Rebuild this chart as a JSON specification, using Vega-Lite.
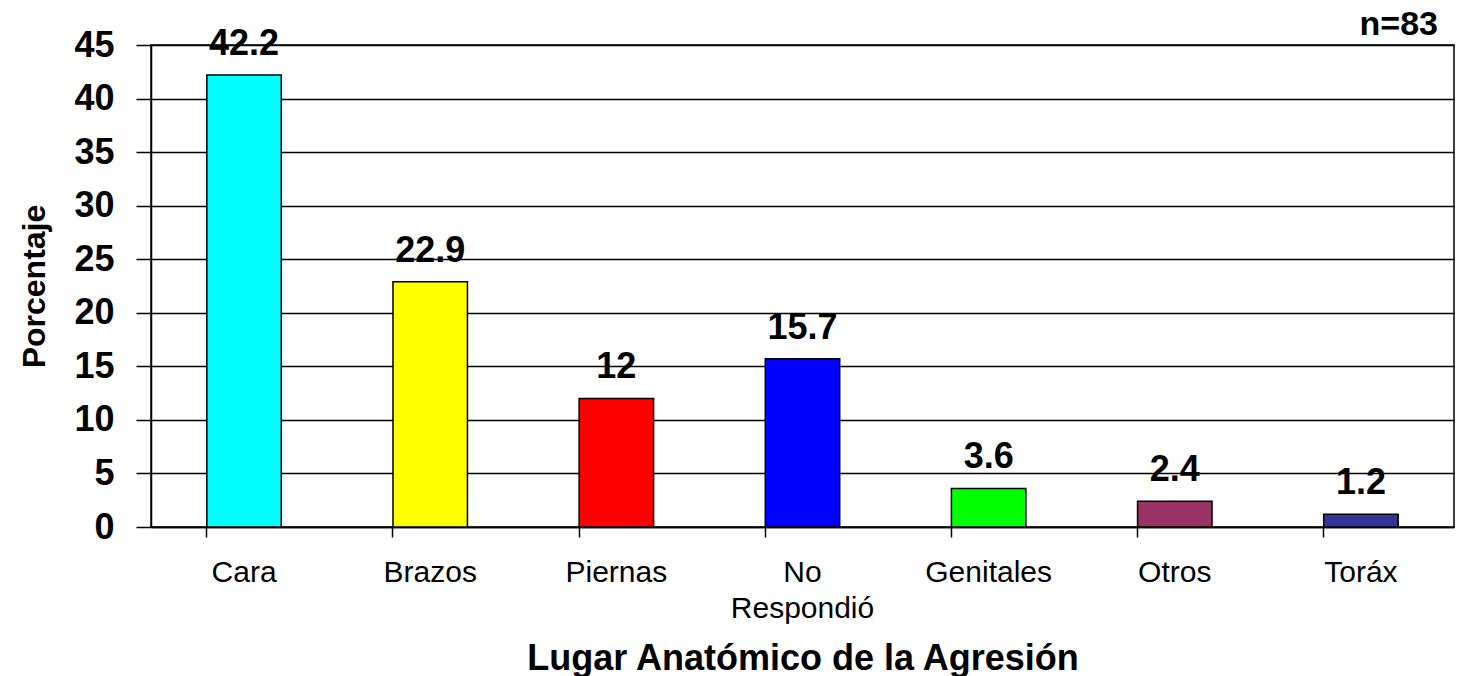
{
  "$schema": "https://vega.github.io/schema/vega-lite/v6.json",
  "autosize": {"type": "none"},
  "width": 1303,
  "height": 482,
  "padding": {"left": 151, "top": 45, "right": 3, "bottom": 149},
  "background": "white",
  "config": {
    "font": "Liberation Sans",
    "view": {"stroke": "black", "strokeWidth": 1.5}
  },
  "title": {
    "text": "n=83",
    "anchor": "end",
    "orient": "top",
    "frame": "group",
    "fontSize": 34,
    "fontWeight": "bold",
    "font": "Liberation Sans",
    "color": "black",
    "baseline": "alphabetic",
    "offset": -43,
    "dx": -16
  },
  "data": {
    "values": [
      {"lugar": "Cara", "pct": 42.2, "etiqueta": "42.2"},
      {"lugar": "Brazos", "pct": 22.9, "etiqueta": "22.9"},
      {"lugar": "Piernas", "pct": 12.0, "etiqueta": "12"},
      {"lugar": "No Respondió", "pct": 15.7, "etiqueta": "15.7"},
      {"lugar": "Genitales", "pct": 3.6, "etiqueta": "3.6"},
      {"lugar": "Otros", "pct": 2.4, "etiqueta": "2.4"},
      {"lugar": "Toráx", "pct": 1.2, "etiqueta": "1.2"}
    ]
  },
  "encoding": {
    "x": {
      "field": "lugar",
      "type": "nominal",
      "sort": null,
      "scale": {"paddingInner": 0.6, "paddingOuter": 0.3},
      "axis": {
        "title": "Lugar Anatómico de la Agresión",
        "titleFontSize": 36,
        "titleFontWeight": "bold",
        "titleColor": "black",
        "titlePadding": 18,
        "labelAngle": 0,
        "labelFontSize": 30,
        "labelColor": "black",
        "labelPadding": 20,
        "labelLineHeight": 36,
        "labelExpr": "datum.label == 'No Respondió' ? ['No', 'Respondió'] : datum.label",
        "bandPosition": 0,
        "tickSize": 10,
        "tickColor": "black",
        "tickWidth": 1.5,
        "domainColor": "black",
        "domainWidth": 1.5,
        "grid": false
      }
    },
    "y": {
      "field": "pct",
      "type": "quantitative",
      "scale": {"domain": [0, 45], "nice": false},
      "axis": {
        "title": "Porcentaje",
        "titleFontSize": 32,
        "titleFontWeight": "bold",
        "titleColor": "black",
        "titlePadding": 22,
        "values": [0, 5, 10, 15, 20, 25, 30, 35, 40, 45],
        "labelFontSize": 36,
        "labelFontWeight": "bold",
        "labelColor": "black",
        "labelPadding": 22,
        "tickSize": 15,
        "tickColor": "black",
        "tickWidth": 1.5,
        "domainColor": "black",
        "domainWidth": 1.5,
        "grid": true,
        "gridColor": "black",
        "gridWidth": 1.5,
        "gridOpacity": 1
      }
    }
  },
  "layer": [
    {
      "mark": {"type": "bar", "stroke": "black", "strokeWidth": 1.5},
      "encoding": {
        "color": {
          "field": "lugar",
          "type": "nominal",
          "scale": {
            "domain": ["Cara", "Brazos", "Piernas", "No Respondió", "Genitales", "Otros", "Toráx"],
            "range": ["#00FFFF", "#FFFF00", "#FF0000", "#0000FF", "#00FF00", "#993366", "#333399"]
          },
          "legend": null
        }
      }
    },
    {
      "mark": {
        "type": "text",
        "fontSize": 36,
        "fontWeight": "bold",
        "color": "black",
        "baseline": "alphabetic",
        "dy": -20
      },
      "encoding": {
        "text": {"field": "etiqueta"}
      }
    }
  ]
}
